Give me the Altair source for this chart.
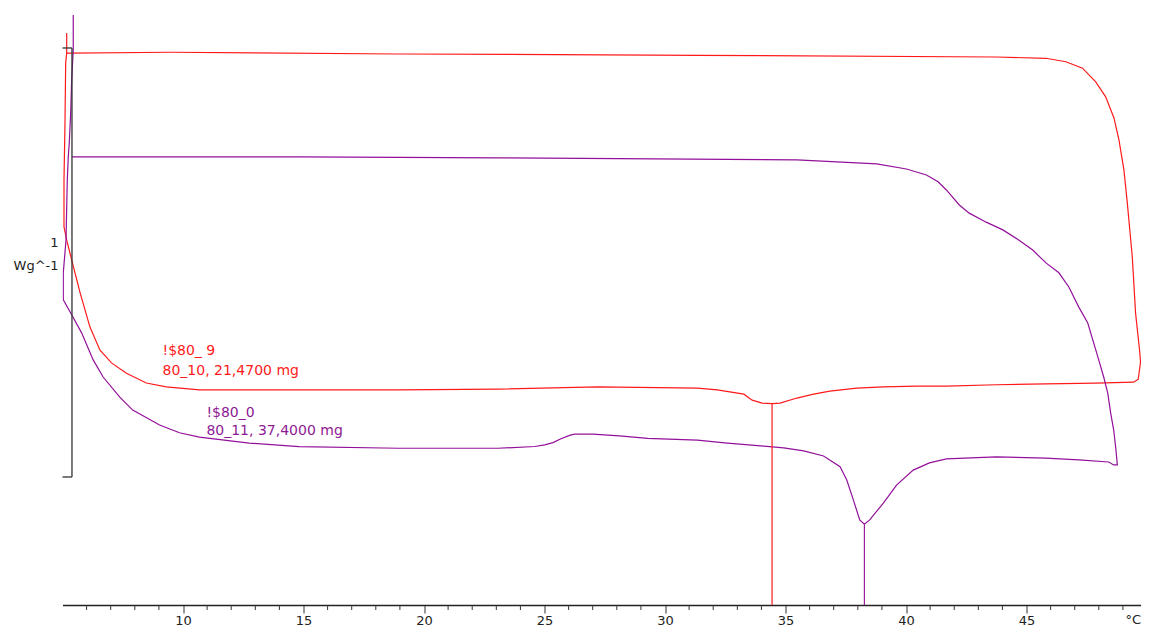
import altair as alt
import pandas as pd

# ---- data (temperature in °C, heat flow in W/g, arbitrary offset) ----
red_t = [5.174, 5.174, 5.132, 5.103, 5.062, 5.062, 5.174, 5.380, 5.723, 6.136, 6.550, 7.033, 7.653,
         8.479, 9.306, 10.682, 14.814, 18.946, 23.079, 27.211, 31.343, 32.169, 33.273, 33.616, 34.029,
         34.442, 34.773, 35.475, 36.165, 36.839, 37.955, 39.058, 40.434, 41.674, 43.740, 45.806, 47.872,
         49.444, 49.636, 49.731, 49.690, 49.525, 49.388, 49.182, 49.041, 48.835, 48.628, 48.285, 47.872,
         47.322, 46.632, 45.806, 43.740, 31.343, 18.946, 9.442, 5.380, 5.174]
red_w = [1.035, 0.988, 0.965, 0.825, 0.692, 0.583, 0.552, 0.506, 0.431, 0.350, 0.296, 0.266, 0.242,
         0.219, 0.210, 0.203, 0.203, 0.203, 0.205, 0.210, 0.207, 0.203, 0.193, 0.179, 0.172,
         0.171, 0.172, 0.184, 0.193, 0.200, 0.207, 0.210, 0.212, 0.212, 0.215, 0.217, 0.219,
         0.221, 0.228, 0.268, 0.296, 0.382, 0.513, 0.639, 0.716, 0.786, 0.837, 0.886, 0.921,
         0.953, 0.968, 0.976, 0.979, 0.983, 0.986, 0.990, 0.988, 0.988]

purple_t = [5.446, 5.446, 5.380, 5.339, 5.281, 5.240, 5.198, 5.145, 5.033, 5.033, 5.380, 5.793, 6.273,
            6.686, 7.376, 7.913, 9.029, 9.855, 10.682, 12.748, 14.814, 18.946, 23.079, 24.595, 25.008,
            25.351, 25.682, 26.041, 26.248, 27.004, 28.107, 29.277, 31.343, 32.583, 34.099, 34.926,
            35.752, 36.579, 37.264, 37.541, 37.818, 38.079, 38.273, 38.492, 39.058, 39.607, 40.298,
            40.971, 41.674, 43.740, 45.806, 47.169, 48.409, 48.616, 48.769, 48.698, 48.616, 48.492,
            48.368, 48.202, 47.996, 47.789, 47.541, 47.169, 46.756, 46.343, 45.806, 45.256, 44.690,
            44.017, 43.326, 42.624, 42.211, 41.674, 41.331, 40.847, 40.021, 38.781, 35.475, 23.079,
            14.814, 5.393]
purple_w = [1.077, 0.995, 0.925, 0.848, 0.779, 0.746, 0.692, 0.552, 0.476, 0.413, 0.378, 0.336, 0.273,
            0.233, 0.186, 0.156, 0.121, 0.103, 0.093, 0.079, 0.071, 0.067, 0.067, 0.071, 0.075,
            0.080, 0.089, 0.097, 0.100, 0.100, 0.096, 0.090, 0.086, 0.079, 0.072, 0.068,
            0.061, 0.049, 0.024, -0.007, -0.054, -0.100, -0.110, -0.100, -0.061, -0.019, 0.016,
            0.033, 0.042, 0.047, 0.044, 0.040, 0.035, 0.028, 0.028, 0.070, 0.110, 0.149,
            0.196, 0.233, 0.273, 0.312, 0.359, 0.396, 0.443, 0.476, 0.499, 0.529, 0.552,
            0.576, 0.594, 0.615, 0.634, 0.669, 0.688, 0.704, 0.718, 0.730, 0.739, 0.744,
            0.746, 0.746]

# peak markers
peak_t = [34.442, 38.273]
peak_w = [0.171, -0.110]
peak_col = ["#ff1a1a", "#9a1fa0"]

# annotation texts
ann_text = ["!$80_ 9", "80_10, 21,4700 mg", "!$80_0", "80_11, 37,4000 mg"]
ann_t = [9.15, 9.15, 10.97, 10.97]
ann_w = [0.294, 0.247, 0.150, 0.107]
ann_col = ["#ff1a1a", "#ff1a1a", "#8e1a94", "#8e1a94"]

# scale bar (1 W/g)
bar_t = 5.393
bar_low, bar_high = 0.0, 1.0
bar_label = ["1", "Wg^-1"]
bar_label_w = [0.545, 0.492]

# x-axis ticks
major_ticks = [10, 15, 20, 25, 30, 35, 40, 45]
minor_ticks = [v for v in range(6, 50) if v % 5 != 0]

X_MIN, X_MAX = 5.0, 49.75
Y_MIN, Y_MAX = -0.2984, 1.0932
RED = "#ff1a1a"
PURPLE = "#93109a"
W, H = 1078.5, 597

xs = alt.Scale(domain=[X_MIN, X_MAX], nice=False, zero=False)
ys = alt.Scale(domain=[Y_MIN, Y_MAX], nice=False, zero=False)

xaxis = alt.Axis(
    values=major_ticks,
    title=None,
    grid=False,
    labelOverlap=False,
    tickSize=8,
    tickColor="#333333",
    tickWidth=1,
    domainColor="#222222",
    domainWidth=1.5,
    labelFont="DejaVu Sans",
    labelFontSize=13,
    labelColor="#222222",
    labelPadding=1,
    labelFlush=False,
)

df_red = pd.DataFrame({"t": red_t, "w": red_w, "i": list(range(len(red_t)))})
df_pur = pd.DataFrame({"t": purple_t, "w": purple_w, "i": list(range(len(purple_t)))})
df_peak = pd.DataFrame({"t": peak_t, "w": peak_w, "c": peak_col})
df_ann = pd.DataFrame({"txt": ann_text, "t": ann_t, "w": ann_w, "c": ann_col})
df_bar = pd.DataFrame({"t": [bar_t], "lo": [bar_low], "hi": [bar_high]})
df_bar_ticks = pd.DataFrame({"w": [bar_low, bar_high], "t0": [X_MIN, X_MIN], "t1": [bar_t, bar_t]})
df_bar_lab = pd.DataFrame({"txt": bar_label, "w": bar_label_w})
df_minor = pd.DataFrame({"t": minor_ticks})

red_line = alt.Chart(df_red).mark_line(color=RED, strokeWidth=1.2, clip=True).encode(
    x=alt.X("t:Q", scale=xs, axis=xaxis),
    y=alt.Y("w:Q", scale=ys, axis=None),
    order="i:Q",
)
pur_line = alt.Chart(df_pur).mark_line(color=PURPLE, strokeWidth=1.2, clip=True).encode(
    x=alt.X("t:Q", scale=xs),
    y=alt.Y("w:Q", scale=ys),
    order="i:Q",
)
minor = alt.Chart(df_minor).mark_rule(color="#333333", strokeWidth=1).encode(
    x=alt.X("t:Q", scale=xs),
    y=alt.value(H),
    y2=alt.value(H + 5),
)
peaks = alt.Chart(df_peak).mark_rule(strokeWidth=1.2).encode(
    x=alt.X("t:Q", scale=xs),
    y=alt.Y("w:Q", scale=ys),
    y2=alt.datum(Y_MIN),
    color=alt.Color("c:N", scale=None),
)
ann = alt.Chart(df_ann).mark_text(
    align="left", baseline="middle", font="DejaVu Sans", fontSize=14
).encode(
    x=alt.X("t:Q", scale=xs),
    y=alt.Y("w:Q", scale=ys),
    text="txt:N",
    color=alt.Color("c:N", scale=None),
)
bar = alt.Chart(df_bar).mark_rule(color="#333333", strokeWidth=1.3).encode(
    x=alt.X("t:Q", scale=xs),
    y=alt.Y("lo:Q", scale=ys),
    y2="hi:Q",
)
bar_ticks = alt.Chart(df_bar_ticks).mark_rule(color="#333333", strokeWidth=1.3).encode(
    x=alt.X("t0:Q", scale=xs),
    x2="t1:Q",
    y=alt.Y("w:Q", scale=ys),
)
bar_lab = alt.Chart(df_bar_lab).mark_text(
    align="right", baseline="middle", font="DejaVu Sans", fontSize=13, color="#222222"
).encode(
    x=alt.value(-4),
    y=alt.Y("w:Q", scale=ys),
    text="txt:N",
)
unit_lab = alt.Chart(pd.DataFrame({"txt": ["°C"]})).mark_text(
    align="right", baseline="top", font="DejaVu Sans", fontSize=13, color="#222222"
).encode(
    x=alt.value(W),
    y=alt.value(H + 9),
    text="txt:N",
)

chart = alt.layer(
    red_line, pur_line, minor, peaks, bar, bar_ticks, ann, bar_lab, unit_lab
).properties(
    width=W,
    height=H,
    autosize=alt.AutoSizeParams(type="none"),
    padding={"left": 54.5, "top": 0, "right": 0, "bottom": 22},
    background="white",
).configure_view(stroke=None)

chart.save("out.html", embed_options={"renderer": "svg", "actions": False})
